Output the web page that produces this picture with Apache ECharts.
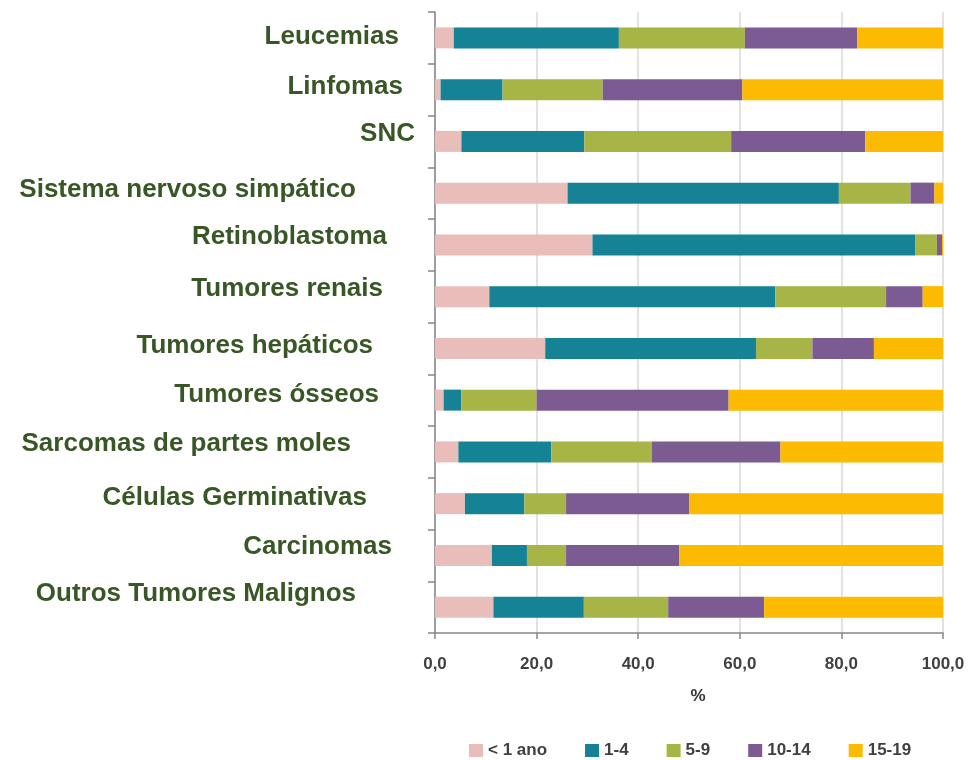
<!DOCTYPE html>
<html>
<head>
<meta charset="utf-8">
<script src="https://cdn.jsdelivr.net/npm/echarts@6/dist/echarts.min.js"></script>
<style>
  html, body { margin: 0; padding: 0; background: #fff; }
  #chart { width: 971px; height: 760px; }
</style>
</head>
<body>
<div id="chart"></div>
<script>
// Distribuição por faixa etária (%) de cada grupo de tumores
var categories = ['Leucemias', 'Linfomas', 'SNC', 'Sistema nervoso simpático', 'Retinoblastoma',
  'Tumores renais', 'Tumores hepáticos', 'Tumores ósseos', 'Sarcomas de partes moles',
  'Células Germinativas', 'Carcinomas', 'Outros Tumores Malignos'];
var ageGroups = ['< 1 ano', '1-4', '5-9', '10-14', '15-19'];

var menorUm = [3.7, 1.1, 5.2, 26.1, 31.0, 10.7, 21.7, 1.7, 4.6, 5.9, 11.2, 11.5];
var de1a4 = [32.5, 12.2, 24.2, 53.4, 63.5, 56.3, 41.5, 3.5, 18.3, 11.7, 6.9, 17.8];
var de5a9 = [24.8, 19.7, 28.9, 14.1, 4.3, 21.8, 11.1, 14.8, 19.8, 8.2, 7.7, 16.6];
var de10a14 = [22.1, 27.5, 26.4, 4.7, 1.0, 7.2, 12.1, 37.8, 25.3, 24.2, 22.3, 18.9];
var de15a19 = [16.9, 39.5, 15.3, 1.7, 0.2, 4.0, 13.6, 42.2, 32.0, 50.0, 51.9, 35.2];

var xTicks = [0, 20, 40, 60, 80, 100];

var seriesValues = [menorUm, de1a4, de5a9, de10a14, de15a19];
var colors = ['#e8bdba', '#158295', '#a6b546', '#7c5b93', '#fcba00'];

// deslocamentos dos rótulos (estilo): [direita, cima]
var labelShiftRight = [16, 12, 0, 59, 28, 32, 42, 36, 64, 48, 23, 59];
var labelShiftUp = [1.5, 3, 7.5, 3.5, 8.5, 7.5, 3, 5.5, 8.5, 5.5, 9, 13.5];

var rich = {};
categories.forEach(function (c, i) {
  rich['l' + i] = {
    fontFamily: 'Liberation Sans, Arial, sans-serif',
    fontSize: 26,
    fontWeight: 'bold',
    color: '#385725',
    padding: [0, labelShiftRight[i], labelShiftUp[i] * 2, 0]
  };
});

var chart = echarts.init(document.getElementById('chart'));

var option = {
  backgroundColor: '#fff',
  animation: false,
  color: colors,
  grid: {
    left: 435,
    right: 28,
    top: 12,
    bottom: 127
  },
  legend: {
    data: ageGroups,
    left: 469,
    top: 742,
    padding: 0,
    icon: 'rect',
    itemWidth: 14,
    itemHeight: 13,
    itemGap: 38,
    textStyle: {
      fontFamily: 'Liberation Sans, Arial, sans-serif',
      fontSize: 17,
      fontWeight: 'bold',
      color: '#404040'
    }
  },
  xAxis: {
    type: 'value',
    min: 0,
    max: 100,
    interval: 20,
    name: '%',
    nameLocation: 'middle',
    nameGap: 55,
    nameTextStyle: {
      fontFamily: 'Liberation Sans, Arial, sans-serif',
      fontSize: 17,
      fontWeight: 'bold',
      color: '#333',
      padding: [0, 0, 0, 18]
    },
    axisLine: { show: true, lineStyle: { color: '#868686', width: 1.5 } },
    axisTick: { show: true, length: 6, lineStyle: { color: '#868686', width: 1.5 } },
    axisLabel: {
      margin: 23,
      fontFamily: 'Liberation Sans, Arial, sans-serif',
      fontSize: 17,
      fontWeight: 'bold',
      color: '#404040',
      formatter: function (v) {
        return xTicks.indexOf(v) >= 0 ? v.toFixed(1).replace('.', ',') : '';
      }
    },
    splitLine: { show: true, lineStyle: { color: '#d9d9d9', width: 1.5 } }
  },
  yAxis: {
    type: 'category',
    data: categories,
    inverse: true,
    axisLine: { show: true, lineStyle: { color: '#868686', width: 1.5 } },
    axisTick: { show: true, length: 7, lineStyle: { color: '#868686', width: 1.5 } },
    axisLabel: {
      margin: 20,
      formatter: function (value, index) {
        return '{l' + index + '|' + value + '}';
      },
      rich: rich
    },
    splitLine: { show: false }
  },
  series: ageGroups.map(function (name, k) {
    return {
      name: name,
      type: 'bar',
      stack: 'total',
      barWidth: 21,
      data: seriesValues[k]
    };
  })
};

chart.setOption(option);
</script>
</body>
</html>
